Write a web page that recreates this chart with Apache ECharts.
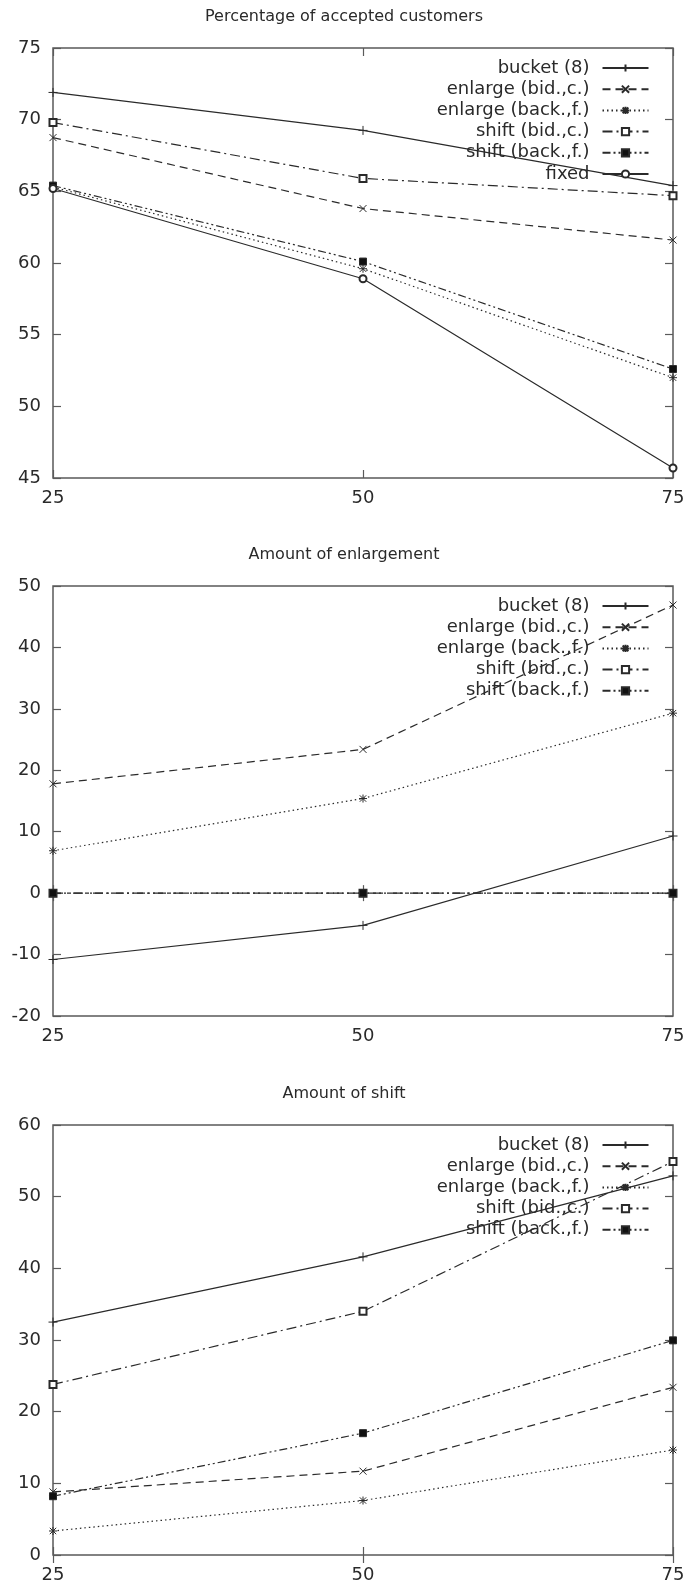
<!DOCTYPE html>
<html>
<head>
<meta charset="utf-8">
<script src="https://cdn.jsdelivr.net/npm/echarts@6/dist/echarts.min.js"></script>
<style>
  html, body { margin: 0; padding: 0; background: #fff; }
  #main { width: 688px; height: 1589px; }
</style>
</head>
<body>
<div id="main"></div>
<script>
// x positions shared by all three panels
const xValues = [25, 50, 75];

// panel 1: percentage of accepted customers
const acceptedBucket = [71.9, 69.25, 65.4];
const acceptedEnlargeBid = [68.75, 63.8, 61.6];
const acceptedEnlargeBack = [65.3, 59.6, 52.0];
const acceptedShiftBid = [69.8, 65.9, 64.7];
const acceptedShiftBack = [65.4, 60.1, 52.6];
const acceptedFixed = [65.2, 58.9, 45.7];

// panel 2: amount of enlargement
const enlargeBucket = [-10.8, -5.25, 9.3];
const enlargeEnlargeBid = [17.8, 23.4, 46.9];
const enlargeEnlargeBack = [6.9, 15.4, 29.3];
const enlargeShiftBid = [0, 0, 0];
const enlargeShiftBack = [0, 0, 0];

// panel 3: amount of shift
const shiftBucket = [32.5, 41.6, 52.9];
const shiftEnlargeBid = [8.8, 11.7, 23.4];
const shiftEnlargeBack = [3.35, 7.6, 14.65];
const shiftShiftBid = [23.8, 34.0, 54.9];
const shiftShiftBack = [8.2, 17.0, 29.95];

const titles = ['Percentage of accepted customers', 'Amount of enlargement', 'Amount of shift'];
const yMin = [45, -20, 0];
const yMax = [75, 50, 60];
const yStep = [5, 10, 10];

const names = ['bucket (8)', 'enlarge (bid.,c.)', 'enlarge (back.,f.)', 'shift (bid.,c.)', 'shift (back.,f.)', 'fixed'];

const panels = [
  [acceptedBucket, acceptedEnlargeBid, acceptedEnlargeBack, acceptedShiftBid, acceptedShiftBack, acceptedFixed],
  [enlargeBucket, enlargeEnlargeBid, enlargeEnlargeBack, enlargeShiftBid, enlargeShiftBack],
  [shiftBucket, shiftEnlargeBid, shiftEnlargeBack, shiftShiftBid, shiftShiftBack]
];

// gnuplot-like line and point styles
const ink = '#2a2a2a';
const frame = '#5a5a5a';
const font = 'DejaVu Sans';
const styles = [
  { dash: 'solid', symbol: 'path://M5,0L5,10M0,5L10,5', size: 9 },
  { dash: [8, 5], symbol: 'path://M0,0L10,10M10,0L0,10', size: 7 },
  { dash: [1.5, 3], symbol: 'path://M5,0L5,10M0,5L10,5M1,1L9,9M9,1L1,9', size: 8 },
  { dash: [10, 4, 2, 4], symbol: 'emptyRect', size: 7 },
  { dash: [8, 3, 2, 3, 2, 3], symbol: 'rect', size: 7 },
  { dash: 'solid', symbol: 'emptyCircle', size: 7 }
];

const gridTops = [48, 586, 1125];
const plotH = 430;

const option = {
  backgroundColor: '#fff',
  animation: false,
  title: [],
  legend: [],
  grid: [],
  xAxis: [],
  yAxis: [],
  series: []
};

panels.forEach(function (lines, g) {
  const top = gridTops[g];
  option.title.push({
    text: titles[g],
    left: 'center',
    top: top - 39.3,
    padding: 0,
    textStyle: { fontFamily: font, fontSize: 16, fontWeight: 'normal', color: ink, lineHeight: 16 }
  });
  option.grid.push({
    left: 53, right: 15, top: top, height: plotH,
    show: true, borderColor: frame, borderWidth: 1.5, backgroundColor: 'transparent'
  });
  const tick = { inside: true, length: 8, lineStyle: { color: frame, width: 1.2 } };
  option.xAxis.push({
    type: 'value', gridIndex: g, min: 25, max: 75, interval: 25, position: 'bottom',
    axisLine: { show: false }, axisTick: tick, splitLine: { show: false },
    axisLabel: { margin: 11.5, fontFamily: font, fontSize: 18, color: ink, lineHeight: 18 }
  });
  option.xAxis.push({
    type: 'value', gridIndex: g, min: 25, max: 75, interval: 25, position: 'top',
    axisLine: { show: false }, axisTick: tick, splitLine: { show: false }, axisLabel: { show: false }
  });
  option.yAxis.push({
    type: 'value', gridIndex: g, min: yMin[g], max: yMax[g], interval: yStep[g], position: 'left',
    axisLine: { show: false }, axisTick: tick, splitLine: { show: false },
    axisLabel: { margin: 12, fontFamily: font, fontSize: 18, color: ink }
  });
  option.yAxis.push({
    type: 'value', gridIndex: g, min: yMin[g], max: yMax[g], interval: yStep[g], position: 'right',
    axisLine: { show: false }, axisTick: tick, splitLine: { show: false }, axisLabel: { show: false }
  });

  const legendNames = [];
  lines.forEach(function (vals, s) {
    const st = styles[s];
    legendNames.push(names[s]);
    option.series.push({
      type: 'line',
      name: names[s],
      xAxisIndex: 2 * g,
      yAxisIndex: 2 * g,
      data: xValues.map(function (x, i) { return [x, vals[i]]; }),
      symbol: st.symbol,
      symbolSize: st.size,
      showAllSymbol: true,
      clip: false,
      lineStyle: { color: ink, width: 1.2, type: st.dash },
      itemStyle: { color: st.symbol === 'rect' ? '#111' : ink, borderColor: ink, borderWidth: 1 },
      emphasis: { disabled: true }
    });
  });

  option.legend.push({
    data: legendNames,
    orient: 'vertical',
    align: 'right',
    right: 38.5,
    top: top + 11,
    padding: 0,
    itemGap: 3.2,
    itemWidth: 46,
    itemHeight: 9,
    selectedMode: false,
    textStyle: {
      fontFamily: font, fontSize: 18, color: ink, lineHeight: 18,
      width: 180, overflow: 'none', padding: [0, 8, 0, 0]
    }
  });
});

const chart = echarts.init(document.getElementById('main'));
chart.setOption(option);
</script>
</body>
</html>
